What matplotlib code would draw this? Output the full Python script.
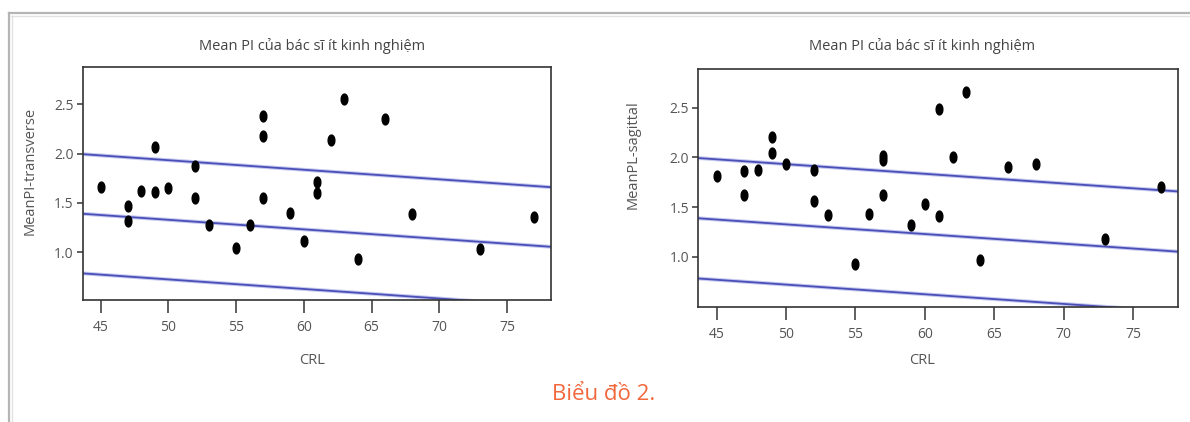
import numpy as np
import matplotlib
matplotlib.use("Agg")
import matplotlib.pyplot as plt
import matplotlib.patheffects as pe
from matplotlib.lines import Line2D

plt.rcParams['font.family'] = ['Open Sans', 'DejaVu Sans']

# CRL values and mean PI
crl = [45, 47, 47, 48, 49, 49, 50, 52, 52, 53, 55, 56, 57, 57, 57,
       59, 60, 61, 61, 62, 63, 64, 66, 68, 73, 77]
pi_transverse = [1.66, 1.47, 1.31, 1.62, 2.07, 1.61, 1.65, 1.87, 1.55, 1.27,
                 1.04, 1.27, 2.38, 2.18, 1.55, 1.40, 1.11, 1.71, 1.60, 2.14,
                 2.55, 0.93, 2.35, 1.39, 1.03, 1.36]
pi_sagittal = [1.81, 1.86, 1.62, 1.87, 2.20, 2.04, 1.93, 1.87, 1.56, 1.42,
               0.93, 1.43, 2.01, 1.97, 1.62, 1.32, 1.53, 2.49, 1.41, 2.00,
               2.66, 0.97, 1.90, 1.93, 1.18, 1.70]

# fitted line and prediction band (same in both panels)
fit_intercept = 1.812
fit_slope = -0.0097
band_half = 0.605

panel_title = "Mean PI của bác sĩ ít kinh nghiệm"
ylabels = ["MeanPI-transverse", "MeanPL-sagittal"]
xlabel = "CRL"
caption = "Biểu đồ 2."
xticks = [45, 50, 55, 60, 65, 70, 75]
yticks = [1.0, 1.5, 2.0, 2.5]

W, H = 1190, 422
fig = plt.figure(figsize=(W / 100, H / 100), dpi=100)

# outer frame of the page
fig.add_artist(Line2D([9 / W, 1], [1 - 13 / H] * 2, color='#b5b5b5', lw=1.6))
fig.add_artist(Line2D([11 / W, 1], [1 - 15.5 / H] * 2, color='#e2e2e2', lw=1.0))
fig.add_artist(Line2D([9 / W] * 2, [0, 1 - 13 / H], color='#b5b5b5', lw=1.6))
fig.add_artist(Line2D([11.5 / W] * 2, [0, 1 - 15.5 / H], color='#e2e2e2', lw=1.0))

# ellipse marker (taller than wide)
t = np.linspace(0, 2 * np.pi, 40)
ellipse = list(zip(0.62 * np.cos(t), np.sin(t)))

panels = [
    # axes box in px (left, bottom, width, height), data, title x, ylabel x/y, ylim
    ((82.6, 300.0, 468.4, 233.0), pi_transverse, ylabels[0], 312, 30, 171, (0.513, 2.878)),
    ((698.3, 306.7, 479.7, 237.4), pi_sagittal, ylabels[1], 922, 633, 155, (0.50, 2.885)),
]

line_fx = pe.Stroke(linewidth=2.8, foreground='#c6c9ef')

for (l, b, w, h), yvals, ylab, tx, ylx, yly, ylim in panels:
    ax = fig.add_axes([l / W, 1 - b / H, w / W, h / H])
    xs = np.array([43.0, 79.0])
    mid = fit_intercept + fit_slope * xs
    for off in (band_half, 0.0, -band_half):
        ax.plot(xs, mid + off, color='#4a4fb8', lw=1.3,
                path_effects=[line_fx, pe.Normal()], zorder=2)
    ax.plot(crl, yvals, linestyle='none', marker=ellipse, markersize=7.8,
            color='black', zorder=3)
    ax.set_xlim(43.67, 78.25)
    ax.set_ylim(*ylim)
    ax.set_xticks(xticks)
    ax.set_yticks(yticks)
    ax.set_yticklabels([f"{v:.1f}" for v in yticks])
    ax.tick_params(axis='x', length=9.5, width=1.2, color='#444444',
                   labelcolor='#555555', labelsize=10, pad=5)
    ax.tick_params(axis='y', length=4, width=1.2, color='#444444',
                   labelcolor='#555555', labelsize=10, pad=2.5)
    for s in ax.spines.values():
        s.set_color('#333333')
        s.set_linewidth(1.2)

    fig.text(tx / W, 1 - 46 / H, panel_title, ha='center', va='center',
             fontsize=10.5, color='#444444')
    fig.text(tx / W, 1 - 361 / H, xlabel, ha='center', va='center',
             fontsize=10.5, color='#555555')
    fig.text(ylx / W, 1 - yly / H, ylab, rotation=90,
             ha='center', va='center', fontsize=10.5, color='#555555')

fig.text(604 / W, 1 - 395 / H, caption, ha='center', va='center',
         fontsize=16, color='#f2683c')

fig.savefig("out.png", dpi=100)
